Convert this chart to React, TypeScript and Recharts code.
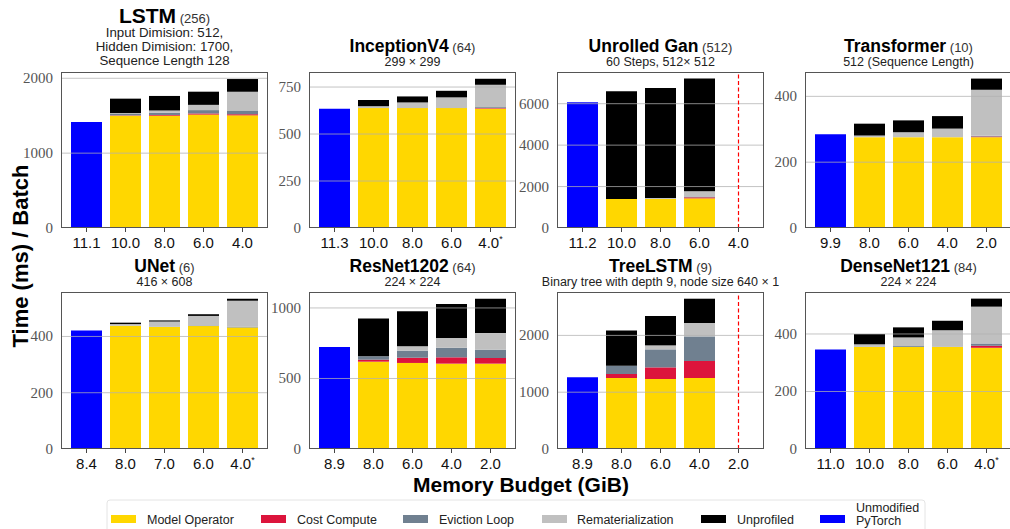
import React from 'react';
import { BarChart, Bar, XAxis, YAxis, ReferenceLine } from 'recharts';

// segment order bottom -> top, then the plain PyTorch baseline
const SERIES = [
  { key: 'model', name: 'Model Operator', color: '#FFD700' },
  { key: 'cost', name: 'Cost Compute', color: '#DC143C' },
  { key: 'evict', name: 'Eviction Loop', color: '#708090' },
  { key: 'remat', name: 'Rematerialization', color: '#C0C0C0' },
  { key: 'unprof', name: 'Unprofiled', color: '#000000' },
  { key: 'pytorch', name: 'Unmodified PyTorch', color: '#0000FF' },
];

// LSTM
const lstmBudgets = ['11.1', '10.0', '8.0', '6.0', '4.0'];
const lstmPytorch = [1415, 0, 0, 0, 0];
const lstmModel = [0, 1500, 1500, 1515, 1505];
const lstmCost = [0, 5, 10, 15, 15];
const lstmEvict = [0, 20, 30, 45, 50];
const lstmRemat = [0, 10, 30, 70, 250];
const lstmUnprof = [0, 193, 194, 176, 170];

// InceptionV4
const incBudgets = ['11.3', '10.0', '8.0', '6.0', '4.0*'];
const incPytorch = [635, 0, 0, 0, 0];
const incModel = [0, 638, 638, 638, 635];
const incCost = [0, 0, 0, 0, 3];
const incEvict = [0, 0, 0, 0, 5];
const incRemat = [0, 10, 30, 57, 119];
const incUnprof = [0, 33, 32, 35, 32];

// Unrolled Gan
const ganBudgets = ['11.2', '10.0', '8.0', '6.0', '4.0'];
const ganPytorch = [6070, 0, 0, 0, 0];
const ganModel = [0, 1400, 1400, 1430, 0];
const ganCost = [0, 0, 0, 50, 0];
const ganEvict = [0, 0, 20, 40, 0];
const ganRemat = [0, 0, 30, 250, 0];
const ganUnprof = [0, 5200, 5313, 5443, 0];

// Transformer
const trBudgets = ['9.9', '8.0', '6.0', '4.0', '2.0'];
const trPytorch = [285, 0, 0, 0, 0];
const trModel = [0, 276, 276, 276, 276];
const trCost = [0, 0, 0, 0, 2];
const trEvict = [0, 0, 0, 0, 2];
const trRemat = [0, 5, 15, 26, 140];
const trUnprof = [0, 36, 36, 38, 34];

// UNet
const unetBudgets = ['8.4', '8.0', '7.0', '6.0', '4.0*'];
const unetPytorch = [421, 0, 0, 0, 0];
const unetModel = [0, 438, 434, 437, 432];
const unetCost = [0, 0, 0, 0, 0];
const unetEvict = [0, 0, 0, 2, 2];
const unetRemat = [0, 6, 19, 34, 93];
const unetUnprof = [0, 5, 4, 6, 7];

// ResNet1202
const resBudgets = ['8.9', '8.0', '6.0', '4.0', '2.0'];
const resPytorch = [723, 0, 0, 0, 0];
const resModel = [0, 619, 610, 605, 605];
const resCost = [0, 14, 37, 45, 40];
const resEvict = [0, 24, 50, 68, 59];
const resRemat = [0, 0, 31, 69, 118];
const resUnprof = [0, 269, 248, 241, 244];

// TreeLSTM
const treeBudgets = ['8.9', '8.0', '6.0', '4.0', '2.0'];
const treePytorch = [1265, 0, 0, 0, 0];
const treeModel = [0, 1250, 1232, 1250, 0];
const treeCost = [0, 70, 205, 299, 0];
const treeEvict = [0, 146, 317, 433, 0];
const treeRemat = [0, 0, 70, 236, 0];
const treeUnprof = [0, 622, 517, 428, 0];

// DenseNet121
const denseBudgets = ['11.0', '10.0', '8.0', '6.0', '4.0*'];
const densePytorch = [346, 0, 0, 0, 0];
const denseModel = [0, 355, 355, 355, 352];
const denseCost = [0, 0, 0, 0, 7];
const denseEvict = [0, 0, 3, 0, 8];
const denseRemat = [0, 9, 30, 58, 128];
const denseUnprof = [0, 36, 35, 33, 28];

const toRows = (budgets: string[], pytorch: number[], model: number[], cost: number[], evict: number[], remat: number[], unprof: number[]) =>
  budgets.map((budget, i) => ({
    budget,
    model: model[i],
    cost: cost[i],
    evict: evict[i],
    remat: remat[i],
    unprof: unprof[i],
    pytorch: pytorch[i],
  }));

const SANS = '"Liberation Sans", Arial, sans-serif';
const SERIF = '"Liberation Serif", "DejaVu Serif", serif';
const PW = 207;
const YW = 50;
const MT = 8;

const BudgetTick = (props: any) => {
  const { x, y, payload } = props;
  const v: string = payload.value;
  const star = v.endsWith('*');
  return (
    <text x={x} y={y} dy={13} textAnchor="middle" fontFamily={SANS} fontSize={15} fill="#111">
      {star ? v.slice(0, -1) : v}
      {star && <tspan fontSize={9} dy={-6}>*</tspan>}
    </text>
  );
};

const TimeTick = (props: any) => {
  const { x, y, payload } = props;
  return (
    <text x={x} y={y} dy={5} textAnchor="end" fontFamily={SERIF} fontSize={15} fill="#555">{payload.value}</text>
  );
};

type PanelProps = {
  left: number;
  top: number;
  h: number;
  rows: any[];
  ticks: number[];
  yMax: number;
  oom?: string;
};

const Panel = ({ left, top, h, rows, ticks, yMax, oom }: PanelProps) => (
  <>
    <div style={{ position: 'absolute', left: left - YW, top: top - MT }}>
      <BarChart width={YW + PW + 4} height={MT + h + 30} data={rows} margin={{ top: MT, right: 4, left: 0, bottom: 0 }} barSize={31}>
        <XAxis dataKey="budget" interval={0} axisLine={false} tickLine={{ stroke: '#444' }} tickSize={4} tickMargin={3}
          padding={{ left: 6, right: 6 }} height={30} tick={(p: any) => <BudgetTick {...p} />} />
        <YAxis type="number" domain={[0, yMax]} ticks={ticks} width={YW} axisLine={false} tickLine={false}
          tick={(p: any) => <TimeTick {...p} />} />
        {SERIES.map(s => (
          <Bar key={s.key} dataKey={s.key} stackId="t" fill={s.color} isAnimationActive={false} />
        ))}
        {ticks.filter(t => t > 0).map(t => (
          <ReferenceLine key={t} y={t} stroke="#b0b0b0" strokeOpacity={0.75} />
        ))}
        {oom && <ReferenceLine x={oom} stroke="#ff0000" strokeDasharray="4 2.5" strokeWidth={1.2} />}
      </BarChart>
    </div>
    <div style={{ position: 'absolute', left, top, width: PW, height: h, border: '1px solid #555', boxSizing: 'border-box', pointerEvents: 'none' }} />
  </>
);

const COLS = [61, 309, 557, 805];
const ROW1 = 72, H1 = 156;
const ROW2 = 292, H2 = 157;

const Title = ({ cx, y, name, count, sub }: { cx: number; y: number; name: string; count: string; sub: string[] }) => {
  const big = name === 'LSTM';
  return (
    <g>
      <text x={cx} y={y} textAnchor="middle" fontFamily={SANS}>
        <tspan fontWeight="bold" fontSize={big ? 21 : 17.5} fill="#000">{name}</tspan>
        <tspan fontSize={13} fill="#333">{' (' + count + ')'}</tspan>
      </text>
      {sub.map((s, i) => (
        <text key={i} x={cx} y={y + 14 + i * 14} textAnchor="middle" fontFamily={SANS} fontSize={big ? 13.3 : 12.5} fill="#222">{s}</text>
      ))}
    </g>
  );
};

const legendPos = [[111, 147], [261, 297], [403, 439], [542, 577], [701, 737], [820, 856]];

export default function App() {
  const c = (i: number) => COLS[i] + PW / 2;
  return (
    <div style={{ position: 'absolute', left: 0, top: 0, width: 1010, height: 529, overflow: 'hidden', background: '#fff' }}>
      <Panel left={COLS[0]} top={ROW1} h={H1} rows={toRows(lstmBudgets, lstmPytorch, lstmModel, lstmCost, lstmEvict, lstmRemat, lstmUnprof)} ticks={[0, 1000, 2000]} yMax={2084} />
      <Panel left={COLS[1]} top={ROW1} h={H1} rows={toRows(incBudgets, incPytorch, incModel, incCost, incEvict, incRemat, incUnprof)} ticks={[0, 250, 500, 750]} yMax={830} />
      <Panel left={COLS[2]} top={ROW1} h={H1} rows={toRows(ganBudgets, ganPytorch, ganModel, ganCost, ganEvict, ganRemat, ganUnprof)} ticks={[0, 2000, 4000, 6000]} yMax={7530} oom="4.0" />
      <Panel left={COLS[3]} top={ROW1} h={H1} rows={toRows(trBudgets, trPytorch, trModel, trCost, trEvict, trRemat, trUnprof)} ticks={[0, 200, 400]} yMax={474} />
      <Panel left={COLS[0]} top={ROW2} h={H2} rows={toRows(unetBudgets, unetPytorch, unetModel, unetCost, unetEvict, unetRemat, unetUnprof)} ticks={[0, 200, 400]} yMax={558} />
      <Panel left={COLS[1]} top={ROW2} h={H2} rows={toRows(resBudgets, resPytorch, resModel, resCost, resEvict, resRemat, resUnprof)} ticks={[0, 500, 1000]} yMax={1113} />
      <Panel left={COLS[2]} top={ROW2} h={H2} rows={toRows(treeBudgets, treePytorch, treeModel, treeCost, treeEvict, treeRemat, treeUnprof)} ticks={[0, 1000, 2000]} yMax={2764} oom="2.0" />
      <Panel left={COLS[3]} top={ROW2} h={H2} rows={toRows(denseBudgets, densePytorch, denseModel, denseCost, denseEvict, denseRemat, denseUnprof)} ticks={[0, 200, 400]} yMax={546} />

      <svg width={1010} height={529} style={{ position: 'absolute', left: 0, top: 0, pointerEvents: 'none' }}>
        <Title cx={c(0)} y={23} name="LSTM" count="256" sub={['Input Dimision: 512,', 'Hidden Dimision: 1700,', 'Sequence Length 128']} />
        <Title cx={c(1)} y={52} name="InceptionV4" count="64" sub={['299 \u00d7 299']} />
        <Title cx={c(2)} y={52} name="Unrolled Gan" count="512" sub={['60 Steps, 512\u00d7 512']} />
        <Title cx={c(3)} y={52} name="Transformer" count="10" sub={['512 (Sequence Length)']} />
        <Title cx={c(0)} y={272} name="UNet" count="6" sub={['416 \u00d7 608']} />
        <Title cx={c(1)} y={272} name="ResNet1202" count="64" sub={['224 \u00d7 224']} />
        <Title cx={c(2)} y={272} name="TreeLSTM" count="9" sub={['Binary tree with depth 9, node size 640 \u00d7 1']} />
        <Title cx={c(3)} y={272} name="DenseNet121" count="84" sub={['224 \u00d7 224']} />

        <text transform="translate(28,256) rotate(-90)" textAnchor="middle" fontFamily={SANS} fontWeight="bold" fontSize={22} fill="#000">Time (ms) / Batch</text>
        <text x={521} y={492} textAnchor="middle" fontFamily={SANS} fontWeight="bold" fontSize={21} fill="#000">Memory Budget (GiB)</text>

        <rect x={107} y={500} width={818} height={40} rx={3} fill="#fff" stroke="#e4e4e4" />
        {SERIES.map((s, i) => (
          <g key={s.key}>
            <rect x={legendPos[i][0]} y={515} width={25} height={8} fill={s.color} />
            {s.key === 'pytorch' ? (
              <text x={legendPos[i][1]} y={512} fontFamily={SANS} fontSize={12.5} fill="#222">
                <tspan x={legendPos[i][1]}>Unmodified</tspan>
                <tspan x={legendPos[i][1]} dy={13}>PyTorch</tspan>
              </text>
            ) : (
              <text x={legendPos[i][1]} y={523.5} fontFamily={SANS} fontSize={12.5} fill="#222">{s.name}</text>
            )}
          </g>
        ))}
      </svg>
    </div>
  );
}
